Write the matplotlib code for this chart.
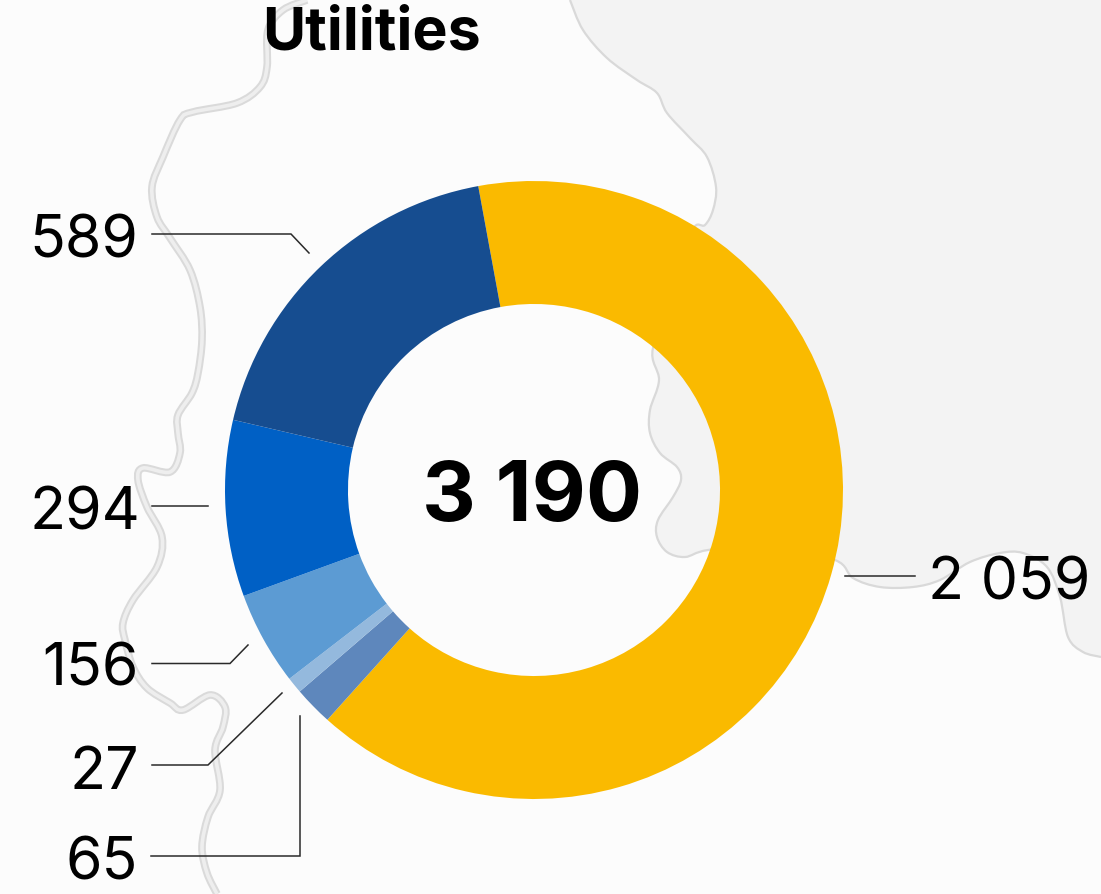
import numpy as np
import matplotlib
matplotlib.use('Agg')
import matplotlib.pyplot as plt
from matplotlib.path import Path
from matplotlib.patches import PathPatch

W, H = 1101, 894

title = 'Utilities'
total_label = '3 190'
values = [2059, 65, 27, 156, 294, 589]
labels = ['2 059', '65', '27', '156', '294', '589']
colors = ['#FABA00', '#5E87BC', '#94B9DD', '#5C9BD3', '#0060C5', '#164D90']

# map outlines in the background, traced in image pixels
land_edge = [(570, 0), (583, 30), (607, 58), (637, 80), (657, 93), (667, 113), (690, 138),
             (707, 157), (716, 187), (713, 210), (705, 225), (693, 230), (680, 290), (653, 348),
             (659, 380), (650, 410), (650, 433), (660, 453), (677, 467), (681, 480), (673, 497),
             (658, 520), (657, 537), (667, 552), (685, 557), (708, 550), (770, 545), (835, 560),
             (853, 578), (880, 587), (913, 587), (940, 580), (970, 562), (1000, 553), (1023, 553),
             (1047, 567), (1060, 597), (1068, 637), (1083, 652), (1101, 657)]
river = [(307, 0), (283, 10), (268, 30), (267, 67), (260, 87), (237, 103), (193, 112), (180, 120),
         (163, 157), (152, 187), (157, 217), (170, 238), (190, 270), (200, 307), (202, 340),
         (198, 373), (192, 393), (178, 415), (178, 433), (180, 453), (170, 472), (143, 468),
         (138, 480), (147, 507), (162, 537), (157, 567), (133, 600), (123, 623), (125, 640),
         (133, 667), (147, 688), (170, 703), (183, 710), (210, 695), (225, 707), (223, 727),
         (215, 750), (220, 790), (208, 817), (202, 847), (207, 873), (217, 894)]

# leader lines, one per label
leaders = {
    '589': [(152, 234), (291, 234), (309, 253)],
    '294': [(152, 506), (208, 506)],
    '156': [(152, 663.5), (230, 663.5), (248, 645)],
    '27': [(152, 765), (208, 765), (282, 693)],
    '65': [(151, 856), (300, 856), (300, 716)],
    '2 059': [(845, 575.5), (915, 575.5)],
}
label_pos = {'589': (138, 258), '294': (140, 530), '156': (139, 686), '27': (139, 789),
             '65': (138, 879), '2 059': (1090, 599)}


def smooth(pts):
    # catmull-rom through the traced points
    pts = np.array(pts, dtype=float)
    p = np.vstack([pts[0], pts, pts[-1]])
    verts = [pts[0]]
    codes = [Path.MOVETO]
    for i in range(1, len(p) - 2):
        verts += [p[i] + (p[i + 1] - p[i - 1]) / 6, p[i + 1] - (p[i + 2] - p[i]) / 6, p[i + 1]]
        codes += [Path.CURVE4] * 3
    return verts, codes


fig = plt.figure(figsize=(W / 100, H / 100), dpi=100, facecolor='#FCFCFC')
bg = fig.add_axes([0, 0, 1, 1])
bg.set_xlim(0, W)
bg.set_ylim(H, 0)
bg.axis('off')

v, c = smooth(land_edge)
fill_path = Path(v + [(W, 0), (570, 0), (570, 0)], c + [Path.LINETO, Path.LINETO, Path.CLOSEPOLY])
bg.add_patch(PathPatch(fill_path, fc='#F3F3F3', ec='none'))
bg.add_patch(PathPatch(Path(v, c), fc='none', ec='#D9D9D9', lw=1.6))

v, c = smooth(river)
bg.add_patch(PathPatch(Path(v, c), fc='none', ec='#DADADA', lw=5.5))
bg.add_patch(PathPatch(Path(v, c), fc='none', ec='#EEEEEE', lw=2.6))

cx, cy, r = 534, 490, 309
ax = fig.add_axes([(cx - r) / W, 1 - (cy + r) / H, 2 * r / W, 2 * r / H])
ax.pie(values, colors=colors, startangle=100.4, counterclock=False, radius=1,
       wedgeprops={'width': 0.398, 'linewidth': 0})
ax.set_xlim(-1, 1)
ax.set_ylim(-1, 1)
ax.patch.set_alpha(0)

top = fig.add_axes([0, 0, 1, 1])
top.set_xlim(0, W)
top.set_ylim(H, 0)
top.axis('off')
for name in labels:
    xs, ys = zip(*leaders[name])
    top.plot(xs, ys, color='#2A2A2A', lw=1.1, solid_joinstyle='miter')
    x, y = label_pos[name]
    top.text(x, y, name, ha='right', va='baseline', fontsize=42.5, family='Inter', color='black')

top.text(372, 50, title, ha='center', va='baseline', fontsize=42.5, family='Inter',
         fontweight='bold', color='black')
top.text(532, 521, total_label, ha='center', va='baseline', fontsize=60, family='Inter',
         fontweight='bold', color='black')

fig.savefig('out.png', dpi=100)
